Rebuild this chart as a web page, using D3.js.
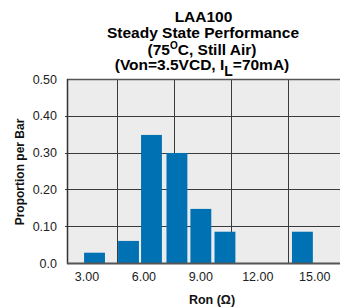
<!DOCTYPE html>
<html>
<head>
<meta charset="utf-8">
<script src="https://cdn.jsdelivr.net/npm/d3@7"></script>
<style>
  body { margin: 0; background: #fff; }
  svg { display: block; font-family: "Liberation Sans", Arial, sans-serif; }
</style>
</head>
<body>
<div id="chart"></div>
<script>
// bin centers (Ron, ohm) and proportion per bar
const binCenters = [3.4, 5.19, 6.4, 7.74, 9.0, 10.27, 14.35];
const proportions = [0.028, 0.06, 0.348, 0.299, 0.147, 0.085, 0.085];
const binWidth = 1.1;

const xTicks = [3, 6, 9, 12, 15];
const xGrid = [4.6, 7.6, 10.6, 13.6];
const yTicks = [0, 0.1, 0.2, 0.3, 0.4, 0.5];

const width = 340, height = 307;
const plot = {left: 67, right: 340, top: 79, bottom: 263};

const svg = d3.select('#chart')
  .append('svg')
  .attr('width', width)
  .attr('height', height);

// scales
const x = d3.scaleLinear()
  .domain([1.95, 16.33])
  .range([plot.left, plot.right]);

const y = d3.scaleLinear()
  .domain([0, 0.5])
  .range([plot.bottom, plot.top]);

// plot background
svg.append('rect')
  .attr('x', plot.left)
  .attr('y', plot.top)
  .attr('width', plot.right - plot.left + 5)
  .attr('height', plot.bottom - plot.top)
  .attr('fill', '#ececec');

// horizontal grid
svg.append('g')
  .selectAll('line')
  .data(yTicks.filter(d => d > 0 && d < 0.5))
  .join('line')
  .attr('x1', plot.left - 2)
  .attr('x2', plot.right)
  .attr('y1', d => Math.round(y(d)) + 0.5)
  .attr('y2', d => Math.round(y(d)) + 0.5)
  .attr('stroke', '#3a3a3a')
  .attr('stroke-width', 1);

// vertical grid
svg.append('g')
  .selectAll('line')
  .data(xGrid)
  .join('line')
  .attr('x1', d => Math.round(x(d)) + 0.5)
  .attr('x2', d => Math.round(x(d)) + 0.5)
  .attr('y1', plot.top)
  .attr('y2', plot.bottom)
  .attr('stroke', '#3a3a3a')
  .attr('stroke-width', 1);

// frame: top, left, bottom
svg.append('line')
  .attr('x1', plot.left).attr('x2', plot.right)
  .attr('y1', plot.top + 0.5).attr('y2', plot.top + 0.5)
  .attr('stroke', '#555').attr('stroke-width', 1.5);
svg.append('line')
  .attr('x1', plot.left + 0.5).attr('x2', plot.left + 0.5)
  .attr('y1', plot.top).attr('y2', plot.bottom + 1)
  .attr('stroke', '#333').attr('stroke-width', 1.5);

// bars
svg.append('g')
  .selectAll('rect')
  .data(binCenters.map((c, i) => ({c, v: proportions[i]})))
  .join('rect')
  .attr('x', d => x(d.c - binWidth / 2))
  .attr('width', d => x(d.c + binWidth / 2) - x(d.c - binWidth / 2))
  .attr('y', d => y(d.v))
  .attr('height', d => y(0) - y(d.v))
  .attr('fill', '#0072b4');

svg.append('line')
  .attr('x1', plot.left).attr('x2', plot.right)
  .attr('y1', plot.bottom + 0.5).attr('y2', plot.bottom + 0.5)
  .attr('stroke', '#555').attr('stroke-width', 2);

// y tick labels
svg.append('g')
  .selectAll('text')
  .data(yTicks)
  .join('text')
  .attr('x', plot.left - 10)
  .attr('y', d => y(d) + 4.5)
  .attr('text-anchor', 'end')
  .attr('font-size', 12.5)
  .attr('fill', '#222')
  .text(d => d === 0 ? '0.0' : d3.format('.2f')(d));

// x tick labels
svg.append('g')
  .selectAll('text')
  .data(xTicks)
  .join('text')
  .attr('x', d => x(d))
  .attr('y', 281)
  .attr('text-anchor', 'middle')
  .attr('font-size', 12.5)
  .attr('fill', '#222')
  .text(d => d3.format('.2f')(d));

// axis titles
svg.append('text')
  .attr('transform', 'translate(23.5,172) rotate(-90)')
  .attr('text-anchor', 'middle')
  .attr('font-size', 12)
  .attr('font-weight', 'bold')
  .attr('fill', '#111')
  .text('Proportion per Bar');

svg.append('text')
  .attr('x', 212)
  .attr('y', 304)
  .attr('text-anchor', 'middle')
  .attr('font-size', 12.5)
  .attr('font-weight', 'bold')
  .attr('fill', '#111')
  .text('Ron (Ω)');

// title
const title = svg.append('g')
  .attr('font-size', 15.5)
  .attr('font-weight', 'bold')
  .attr('fill', '#000')
  .attr('text-anchor', 'middle');

title.append('text').attr('x', 203.5).attr('y', 22.3).text('LAA100');
title.append('text').attr('x', 203).attr('y', 38.3).text('Steady State Performance');

const t3 = title.append('text').attr('x', 202).attr('y', 55);
t3.append('tspan').text('(75');
t3.append('tspan').attr('dy', -6).attr('font-size', 10).text('O');
t3.append('tspan').attr('dy', 6).text('C, Still Air)');

const t4 = title.append('text').attr('x', 202).attr('y', 70);
t4.append('tspan').text('(Von=3.5VCD, I');
t4.append('tspan').attr('dy', 5.5).attr('font-size', 14).text('L');
t4.append('tspan').attr('dy', -5.5).text('=70mA)');
</script>
</body>
</html>
